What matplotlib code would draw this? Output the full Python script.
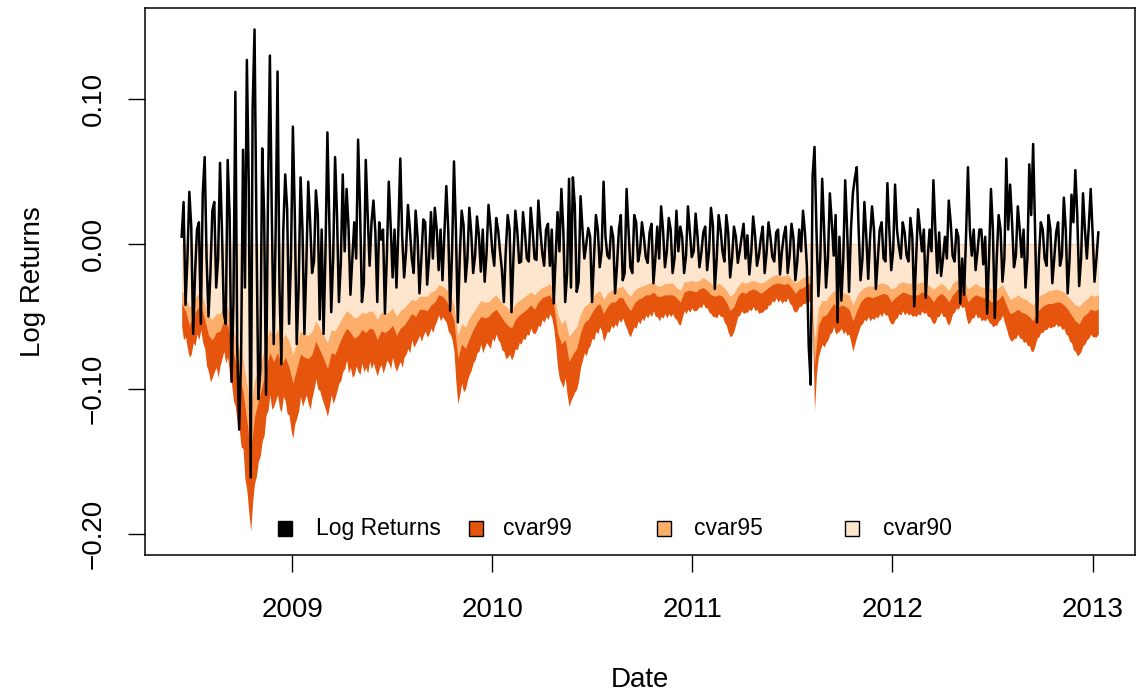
import numpy as np
import pandas as pd
import matplotlib
matplotlib.use("Agg")
import matplotlib.pyplot as plt
import matplotlib.dates as mdates
from matplotlib.patches import Rectangle

plt.rcParams["font.family"] = ["Liberation Sans", "DejaVu Sans"]

# returns and cvar99 sampled twice a week, cvar95/cvar90 weekly (June 2008 .. January 2013)
ret_dates = pd.date_range("2008-06-13", periods=479, freq="84h")
dates = pd.date_range("2008-06-13", periods=240, freq="7D")

log_returns = [
    0.005, 0.029, -0.042, -0.010, 0.036, 0.012, -0.062, -0.020, 0.010, 0.015, -0.055, 0.035,
    0.060, -0.010, -0.050, -0.020, 0.023, 0.029, -0.030, -0.010, 0.056, 0.010, -0.048, -0.055,
    0.058, 0.020, -0.095, -0.040, 0.105, -0.073, -0.128, -0.077, 0.065, -0.030, 0.127, 0.040,
    -0.161, 0.093, 0.148, 0.010, -0.107, -0.087, 0.066, 0.020, -0.104, 0.030, 0.130, 0.020,
    -0.069, 0.007, 0.119, -0.030, -0.083, 0.010, 0.048, 0.024, -0.055, -0.010, 0.081, 0.020,
    -0.069, -0.030, 0.046, 0.010, -0.062, -0.015, 0.043, 0.015, -0.020, -0.012, 0.037, 0.020,
    -0.052, 0.010, -0.062, -0.005, 0.077, 0.015, -0.047, -0.010, 0.060, 0.020, -0.040, -0.013,
    0.048, -0.005, 0.038, 0.012, -0.035, -0.010, 0.015, -0.010, 0.072, 0.025, -0.040, -0.027,
    0.058, 0.020, -0.015, 0.015, 0.030, 0.008, -0.040, 0.015, 0.003, 0.010, -0.048, -0.008,
    0.043, 0.012, -0.023, 0.010, -0.030, 0.010, 0.059, 0.005, -0.023, -0.005, 0.027, 0.010,
    -0.010, -0.020, 0.023, 0.005, -0.034, -0.010, 0.017, 0.015, -0.028, -0.010, 0.022, -0.010,
    0.025, 0.010, -0.018, 0.010, -0.025, 0.007, 0.040, 0.010, -0.046, -0.005, 0.057, 0.010,
    -0.054, -0.010, 0.023, 0.013, -0.026, -0.010, 0.025, 0.008, -0.020, -0.008, 0.019, 0.006,
    -0.019, 0.010, -0.026, -0.006, 0.027, 0.013, -0.005, -0.015, 0.018, 0.010, -0.005, -0.018,
    -0.040, -0.005, 0.020, 0.010, -0.047, -0.010, 0.023, 0.009, -0.013, -0.012, 0.022, 0.008,
    -0.010, -0.012, 0.025, 0.010, -0.010, -0.011, 0.030, 0.010, -0.006, -0.015, 0.010, 0.014,
    -0.015, 0.010, -0.041, -0.010, 0.022, -0.005, 0.038, 0.010, -0.040, -0.020, 0.045, -0.030,
    0.046, 0.026, -0.033, -0.026, 0.033, 0.010, -0.010, 0.000, 0.011, 0.005, -0.040, -0.010,
    0.020, 0.010, -0.016, -0.005, 0.043, 0.005, -0.008, -0.010, 0.012, 0.005, -0.034, -0.015,
    0.010, 0.020, -0.025, -0.020, 0.038, 0.010, -0.016, -0.020, 0.020, 0.015, -0.012, -0.005,
    0.015, 0.005, -0.009, -0.013, 0.008, 0.014, -0.027, -0.010, 0.012, -0.010, 0.026, 0.010,
    -0.016, -0.005, 0.018, 0.010, -0.020, -0.010, 0.023, -0.005, 0.012, 0.005, -0.020, -0.008,
    0.026, 0.008, -0.009, -0.005, 0.021, 0.005, -0.016, -0.006, 0.008, 0.012, -0.018, -0.005,
    0.025, 0.013, -0.031, -0.010, 0.020, 0.010, -0.005, -0.012, 0.020, 0.008, -0.023, -0.010,
    0.012, 0.005, -0.013, -0.005, 0.005, 0.014, -0.010, 0.006, -0.021, -0.006, 0.019, 0.006,
    -0.015, -0.008, 0.004, 0.012, -0.020, -0.006, 0.015, 0.005, -0.009, -0.012, 0.008, 0.010,
    -0.021, -0.005, 0.006, 0.012, -0.020, -0.008, 0.014, 0.004, -0.025, -0.012, 0.010, -0.005,
    0.023, 0.008, -0.015, -0.071, -0.097, 0.047, 0.067, 0.010, -0.036, -0.010, 0.045, 0.010,
    -0.030, -0.010, 0.035, 0.015, -0.008, 0.020, -0.054, 0.005, -0.039, -0.010, 0.044, 0.010,
    -0.033, 0.010, 0.035, 0.045, 0.053, 0.010, -0.025, -0.010, 0.029, 0.005, -0.024, 0.005,
    0.026, 0.010, -0.031, -0.010, 0.010, 0.015, -0.010, -0.012, 0.042, 0.010, -0.018, -0.005,
    0.041, 0.010, -0.002, -0.010, 0.015, 0.008, -0.008, -0.012, 0.018, 0.005, -0.043, -0.010,
    0.024, 0.010, -0.005, 0.010, -0.037, -0.010, 0.010, -0.005, 0.044, 0.010, -0.020, 0.008,
    -0.022, -0.010, 0.005, -0.010, 0.030, 0.015, -0.008, -0.012, 0.010, 0.005, -0.041, -0.010,
    -0.035, 0.005, 0.053, 0.010, -0.008, 0.010, -0.018, -0.005, 0.010, 0.010, -0.014, 0.005,
    -0.048, -0.010, 0.038, 0.010, -0.051, -0.010, 0.020, 0.010, -0.026, -0.010, 0.059, 0.010,
    0.041, 0.015, -0.016, -0.008, 0.026, 0.010, -0.009, 0.010, -0.030, -0.010, 0.055, 0.020,
    0.069, 0.010, -0.054, -0.010, 0.015, 0.010, -0.010, -0.015, 0.020, 0.010, -0.027, -0.010,
    0.008, 0.015, -0.015, -0.008, 0.032, 0.010, -0.034, -0.010, 0.034, 0.015, 0.051, 0.020,
    -0.029, -0.010, 0.035, 0.010, -0.010, 0.012, 0.038, 0.008, -0.026, -0.010, 0.008,
]

cvar99 = [
    -0.057, -0.066, -0.064, -0.072, -0.078, -0.076, -0.068, -0.070, -0.062, -0.066, -0.059, -0.068,
    -0.072, -0.084, -0.088, -0.095, -0.092, -0.088, -0.085, -0.092, -0.084, -0.079, -0.074, -0.082,
    -0.078, -0.090, -0.096, -0.108, -0.112, -0.124, -0.127, -0.140, -0.141, -0.162, -0.170, -0.185,
    -0.198, -0.178, -0.165, -0.160, -0.150, -0.146, -0.136, -0.132, -0.118, -0.115, -0.104, -0.114,
    -0.112, -0.108, -0.104, -0.113, -0.116, -0.105, -0.108, -0.117, -0.118, -0.128, -0.134, -0.124,
    -0.120, -0.115, -0.105, -0.112, -0.108, -0.104, -0.110, -0.114, -0.106, -0.100, -0.093, -0.100,
    -0.101, -0.106, -0.110, -0.114, -0.119, -0.112, -0.104, -0.110, -0.106, -0.101, -0.096, -0.094,
    -0.088, -0.086, -0.080, -0.089, -0.085, -0.092, -0.090, -0.084, -0.088, -0.090, -0.082, -0.088,
    -0.085, -0.089, -0.081, -0.086, -0.082, -0.087, -0.091, -0.086, -0.083, -0.089, -0.085, -0.080,
    -0.082, -0.086, -0.078, -0.084, -0.088, -0.084, -0.081, -0.085, -0.078, -0.076, -0.072, -0.075,
    -0.066, -0.071, -0.069, -0.066, -0.063, -0.067, -0.063, -0.060, -0.064, -0.062, -0.058, -0.061,
    -0.056, -0.053, -0.049, -0.053, -0.050, -0.052, -0.054, -0.060, -0.062, -0.066, -0.074, -0.095,
    -0.110, -0.104, -0.096, -0.102, -0.100, -0.094, -0.090, -0.087, -0.082, -0.080, -0.075, -0.074,
    -0.069, -0.075, -0.071, -0.068, -0.070, -0.072, -0.065, -0.067, -0.062, -0.066, -0.068, -0.073,
    -0.074, -0.079, -0.078, -0.076, -0.080, -0.077, -0.072, -0.073, -0.068, -0.069, -0.065, -0.066,
    -0.062, -0.063, -0.058, -0.061, -0.062, -0.060, -0.056, -0.057, -0.052, -0.054, -0.050, -0.052,
    -0.048, -0.051, -0.058, -0.070, -0.085, -0.093, -0.096, -0.099, -0.092, -0.104, -0.112, -0.108,
    -0.105, -0.102, -0.100, -0.094, -0.085, -0.080, -0.075, -0.077, -0.072, -0.070, -0.065, -0.066,
    -0.060, -0.062, -0.057, -0.060, -0.067, -0.064, -0.060, -0.061, -0.056, -0.058, -0.055, -0.057,
    -0.052, -0.054, -0.051, -0.055, -0.058, -0.062, -0.064, -0.060, -0.057, -0.058, -0.053, -0.055,
    -0.051, -0.053, -0.049, -0.051, -0.048, -0.050, -0.046, -0.050, -0.050, -0.053, -0.050, -0.051,
    -0.048, -0.051, -0.048, -0.050, -0.048, -0.051, -0.052, -0.055, -0.056, -0.051, -0.046, -0.048,
    -0.045, -0.047, -0.044, -0.046, -0.046, -0.045, -0.043, -0.044, -0.041, -0.044, -0.044, -0.047,
    -0.048, -0.050, -0.050, -0.051, -0.048, -0.050, -0.050, -0.054, -0.056, -0.061, -0.064, -0.063,
    -0.060, -0.055, -0.050, -0.049, -0.046, -0.048, -0.047, -0.047, -0.045, -0.046, -0.043, -0.046,
    -0.045, -0.048, -0.047, -0.047, -0.045, -0.045, -0.042, -0.042, -0.039, -0.040, -0.037, -0.040,
    -0.038, -0.041, -0.039, -0.040, -0.037, -0.041, -0.042, -0.046, -0.047, -0.046, -0.043, -0.043,
    -0.041, -0.041, -0.039, -0.040, -0.038, -0.060, -0.115, -0.090, -0.078, -0.073, -0.069, -0.071,
    -0.068, -0.066, -0.062, -0.061, -0.057, -0.062, -0.061, -0.060, -0.058, -0.062, -0.060, -0.063,
    -0.062, -0.068, -0.074, -0.069, -0.064, -0.060, -0.056, -0.055, -0.052, -0.053, -0.050, -0.053,
    -0.051, -0.052, -0.050, -0.051, -0.048, -0.050, -0.047, -0.049, -0.049, -0.053, -0.055, -0.055,
    -0.052, -0.051, -0.048, -0.049, -0.046, -0.049, -0.047, -0.049, -0.048, -0.050, -0.049, -0.050,
    -0.048, -0.049, -0.046, -0.048, -0.047, -0.050, -0.050, -0.053, -0.055, -0.054, -0.050, -0.050,
    -0.047, -0.050, -0.050, -0.054, -0.056, -0.053, -0.048, -0.047, -0.044, -0.045, -0.042, -0.044,
    -0.043, -0.050, -0.055, -0.054, -0.051, -0.051, -0.048, -0.051, -0.050, -0.053, -0.052, -0.053,
    -0.051, -0.054, -0.055, -0.057, -0.056, -0.056, -0.053, -0.052, -0.049, -0.054, -0.058, -0.063,
    -0.066, -0.067, -0.065, -0.065, -0.062, -0.065, -0.065, -0.068, -0.067, -0.070, -0.070, -0.074,
    -0.074, -0.070, -0.065, -0.064, -0.061, -0.061, -0.059, -0.059, -0.057, -0.058, -0.057, -0.057,
    -0.055, -0.057, -0.056, -0.059, -0.058, -0.062, -0.063, -0.067, -0.068, -0.073, -0.074, -0.077,
    -0.076, -0.074, -0.070, -0.069, -0.066, -0.065, -0.062, -0.064, -0.064, -0.064, -0.062,
]

cvar95 = [
    -0.041, -0.046, -0.056, -0.049, -0.045, -0.042, -0.052, -0.063, -0.066, -0.061, -0.060, -0.053,
    -0.056, -0.069, -0.081, -0.091, -0.102, -0.122, -0.143, -0.119, -0.108, -0.098, -0.085, -0.075,
    -0.081, -0.075, -0.084, -0.078, -0.085, -0.096, -0.086, -0.076, -0.078, -0.079, -0.076, -0.067,
    -0.073, -0.079, -0.086, -0.075, -0.076, -0.069, -0.063, -0.058, -0.061, -0.065, -0.063, -0.059,
    -0.061, -0.058, -0.059, -0.066, -0.060, -0.061, -0.059, -0.056, -0.063, -0.058, -0.056, -0.052,
    -0.048, -0.050, -0.045, -0.045, -0.046, -0.042, -0.040, -0.035, -0.036, -0.039, -0.045, -0.053,
    -0.079, -0.069, -0.072, -0.065, -0.059, -0.054, -0.050, -0.051, -0.050, -0.047, -0.045, -0.049,
    -0.053, -0.056, -0.058, -0.052, -0.049, -0.047, -0.045, -0.042, -0.045, -0.040, -0.037, -0.036,
    -0.035, -0.042, -0.061, -0.069, -0.066, -0.081, -0.076, -0.072, -0.061, -0.054, -0.052, -0.047,
    -0.043, -0.041, -0.048, -0.043, -0.040, -0.040, -0.037, -0.037, -0.042, -0.046, -0.041, -0.038,
    -0.037, -0.035, -0.035, -0.033, -0.036, -0.036, -0.035, -0.035, -0.035, -0.037, -0.040, -0.033,
    -0.032, -0.032, -0.033, -0.031, -0.030, -0.032, -0.035, -0.036, -0.035, -0.036, -0.040, -0.046,
    -0.043, -0.036, -0.033, -0.034, -0.032, -0.031, -0.032, -0.034, -0.032, -0.030, -0.028, -0.027,
    -0.027, -0.028, -0.027, -0.030, -0.034, -0.031, -0.030, -0.028, -0.027, -0.083, -0.056, -0.050,
    -0.049, -0.045, -0.041, -0.044, -0.042, -0.043, -0.045, -0.053, -0.046, -0.040, -0.037, -0.036,
    -0.037, -0.036, -0.035, -0.034, -0.035, -0.040, -0.037, -0.035, -0.033, -0.034, -0.035, -0.035,
    -0.035, -0.033, -0.034, -0.036, -0.040, -0.036, -0.034, -0.036, -0.040, -0.035, -0.032, -0.030,
    -0.031, -0.040, -0.037, -0.035, -0.036, -0.037, -0.037, -0.040, -0.040, -0.038, -0.035, -0.042,
    -0.048, -0.047, -0.045, -0.047, -0.048, -0.050, -0.053, -0.047, -0.044, -0.042, -0.041, -0.041,
    -0.040, -0.040, -0.042, -0.045, -0.049, -0.053, -0.055, -0.050, -0.048, -0.045, -0.046, -0.045,
]

cvar90 = [
    -0.032, -0.036, -0.044, -0.039, -0.035, -0.034, -0.041, -0.050, -0.052, -0.048, -0.048, -0.042,
    -0.044, -0.055, -0.064, -0.072, -0.080, -0.097, -0.113, -0.094, -0.086, -0.078, -0.067, -0.059,
    -0.064, -0.059, -0.066, -0.062, -0.067, -0.076, -0.068, -0.060, -0.062, -0.063, -0.060, -0.053,
    -0.058, -0.063, -0.068, -0.059, -0.060, -0.055, -0.050, -0.046, -0.048, -0.051, -0.050, -0.047,
    -0.048, -0.046, -0.047, -0.052, -0.047, -0.048, -0.047, -0.044, -0.050, -0.046, -0.044, -0.041,
    -0.038, -0.039, -0.036, -0.036, -0.036, -0.033, -0.032, -0.028, -0.029, -0.031, -0.035, -0.042,
    -0.063, -0.055, -0.057, -0.051, -0.047, -0.043, -0.039, -0.040, -0.040, -0.037, -0.035, -0.039,
    -0.042, -0.044, -0.046, -0.041, -0.039, -0.037, -0.035, -0.033, -0.035, -0.032, -0.030, -0.029,
    -0.027, -0.033, -0.048, -0.055, -0.052, -0.064, -0.060, -0.057, -0.048, -0.043, -0.041, -0.037,
    -0.034, -0.032, -0.038, -0.034, -0.032, -0.031, -0.030, -0.029, -0.033, -0.036, -0.032, -0.030,
    -0.029, -0.028, -0.027, -0.026, -0.029, -0.029, -0.027, -0.027, -0.027, -0.030, -0.032, -0.026,
    -0.026, -0.025, -0.026, -0.025, -0.023, -0.025, -0.027, -0.029, -0.027, -0.029, -0.032, -0.036,
    -0.034, -0.029, -0.026, -0.027, -0.026, -0.025, -0.026, -0.027, -0.026, -0.024, -0.022, -0.021,
    -0.022, -0.022, -0.021, -0.024, -0.027, -0.025, -0.023, -0.022, -0.022, -0.066, -0.044, -0.039,
    -0.039, -0.035, -0.032, -0.035, -0.033, -0.034, -0.035, -0.042, -0.036, -0.032, -0.030, -0.029,
    -0.029, -0.029, -0.027, -0.027, -0.028, -0.031, -0.030, -0.027, -0.026, -0.027, -0.027, -0.028,
    -0.027, -0.026, -0.027, -0.029, -0.031, -0.029, -0.027, -0.029, -0.032, -0.027, -0.025, -0.024,
    -0.025, -0.031, -0.029, -0.027, -0.029, -0.030, -0.029, -0.031, -0.032, -0.030, -0.028, -0.033,
    -0.038, -0.037, -0.035, -0.037, -0.038, -0.040, -0.042, -0.037, -0.035, -0.034, -0.032, -0.032,
    -0.031, -0.032, -0.033, -0.036, -0.039, -0.042, -0.043, -0.040, -0.038, -0.035, -0.036, -0.035,
]

series_names = ["Log Returns", "cvar99", "cvar95", "cvar90"]
series_colors = ["#000000", "#E6550D", "#FDAE6B", "#FEE6CE"]
year_ticks = [2009, 2010, 2011, 2012, 2013]
y_ticks = [0.10, 0.00, -0.10, -0.20]

FS_AXIS = 20
FS_KEY = 16.5

fig = plt.figure(figsize=(11.39, 6.97), dpi=100)
ax = fig.add_axes([0.1273, 0.2037, 0.8692, 0.7848])

# shaded cvar bands, widest first so the narrower ones sit on top
ax.fill_between(ret_dates, 0, cvar99, color=series_colors[1], linewidth=0)
ax.fill_between(dates, 0, cvar95, color=series_colors[2], linewidth=0)
ax.fill_between(dates, 0, cvar90, color=series_colors[3], linewidth=0)
ax.plot(ret_dates, log_returns, color="black", lw=1.8)

span = dates[-1] - dates[0]
ax.set_xlim(dates[0] - 0.04 * span, dates[-1] + 0.04 * span)
ax.set_ylim(-0.2145, 0.1628)

ax.set_xticks([pd.Timestamp(f"{y}-01-01") for y in year_ticks])
ax.xaxis.set_major_formatter(mdates.DateFormatter("%Y"))
ax.set_yticks(y_ticks)
ax.set_yticklabels([f"{v:.2f}".replace("-", "\u2212") for v in y_ticks],
                   rotation=90, va="center")

ax.tick_params(axis="both", direction="out", length=12, width=1.0,
               labelsize=FS_AXIS, color="black")
ax.tick_params(axis="x", pad=18.5)
ax.tick_params(axis="y", pad=15.5)
for s in ax.spines.values():
    s.set_linewidth(1.1)

ax.set_xlabel("Date", fontsize=FS_AXIS, labelpad=31.5)
ax.set_ylabel("Log Returns", fontsize=FS_AXIS, labelpad=25)

# horizontal legend row along the bottom of the panel
key_x = [0.1414, 0.3343, 0.5242, 0.7141]
text_x = [0.1727, 0.3616, 0.5545, 0.7455]
for kx, tx, name, col in zip(key_x, text_x, series_names, series_colors):
    ax.add_patch(Rectangle((kx - 0.0075, 0.035), 0.015, 0.028, transform=ax.transAxes,
                           facecolor=col, edgecolor="black", lw=1.0, clip_on=False))
    ax.text(tx, 0.049, name, transform=ax.transAxes, fontsize=FS_KEY,
            va="center", ha="left")

fig.savefig("out.png", dpi=100)
